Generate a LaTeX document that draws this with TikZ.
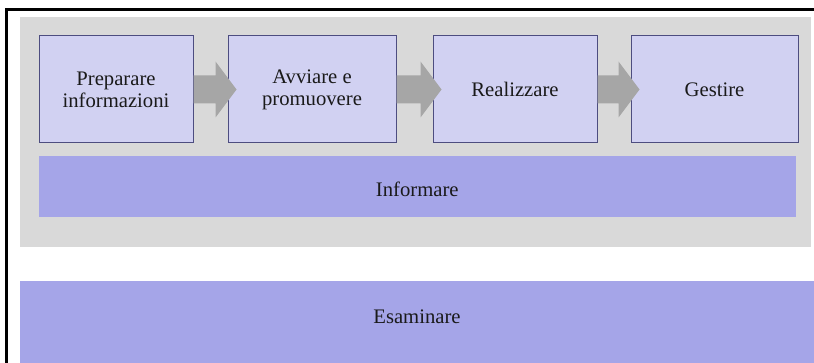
\documentclass[tikz,border=0pt]{standalone}
\usepackage{fontspec}
\setmainfont{Liberation Serif}
\usepackage{xcolor}
\usepackage{tikz}
\usetikzlibrary{positioning,calc}
\definecolor{panelgray}{HTML}{D9D9D9}
\definecolor{steplilac}{HTML}{D1D1F2}
\definecolor{stepedge}{HTML}{4D4D80}
\definecolor{barlilac}{HTML}{A5A5E8}
\definecolor{arrowgray}{HTML}{A6A6A6}
\definecolor{ink}{HTML}{1A1A1A}
\tikzset{
  stepbox/.style={
    rectangle, draw=stepedge, fill=steplilac, line width=0.75pt,
    minimum width=#1, minimum height=80.25pt,
    font=\fontsize{15.5}{16.5}\selectfont, text=ink, align=center,
    inner sep=0pt
  },
  stepbox/.default=120pt,
  barbox/.style={
    rectangle, fill=barlilac, minimum width=#1,
    font=\fontsize{15.5}{16.5}\selectfont, text=ink, align=center,
    inner sep=0pt
  },
  barbox/.default=567.75pt,
  blockarrow/.style={fill=arrowgray},
}

\begin{document}
\begin{tikzpicture}[x=0.75pt, y=-0.75pt]
\useasboundingbox (0,0) rectangle (814,363);
\clip (0,0) rectangle (814,363);

% Gray panel behind the steps
\fill[panelgray] (20,17) rectangle (811,247);

% The four steps
\node[stepbox=115.5pt] (prep) at (116,89.5) {Preparare\\informazioni};
\node[stepbox=126pt, right=25.5pt of prep] (avvio) {Avviare e\\promuovere};
\node[stepbox=123pt, right=27pt of avvio] (real) {Realizzare};
\node[stepbox=125.25pt, right=24.75pt of real] (gest) {Gestire};

% Block arrows between steps
\fill[blockarrow] ($(prep.east)+(0,-14)$) -- ($(avvio.west)+(-12,-14)$) -- ($(avvio.west)+(-12,-28)$)
  -- ($(avvio.west)+(9,0)$) -- ($(avvio.west)+(-12,28)$) -- ($(avvio.west)+(-12,14)$) -- ($(prep.east)+(0,14)$) -- cycle;
\fill[blockarrow] ($(avvio.east)+(0,-14)$) -- ($(real.west)+(-12,-14)$) -- ($(real.west)+(-12,-28)$)
  -- ($(real.west)+(9,0)$) -- ($(real.west)+(-12,28)$) -- ($(real.west)+(-12,14)$) -- ($(avvio.east)+(0,14)$) -- cycle;
\fill[blockarrow] ($(real.east)+(0,-14)$) -- ($(gest.west)+(-12,-14)$) -- ($(gest.west)+(-12,-28)$)
  -- ($(gest.west)+(9,0)$) -- ($(gest.west)+(-12,28)$) -- ($(gest.west)+(-12,14)$) -- ($(real.east)+(0,14)$) -- cycle;

% Wide bars
\node[barbox, minimum height=45.75pt, text height=15.5pt, anchor=north west] (inform)
  at ([yshift=-9pt]prep.south west) {Informare};
\node[barbox=595.5pt, minimum height=61.5pt, text depth=7.5pt] (esam) at (417,322) {Esaminare};

% Outer frame
\draw[line width=2.25pt] (6.5,9.5) rectangle (830,380);
\end{tikzpicture}
\end{document}
